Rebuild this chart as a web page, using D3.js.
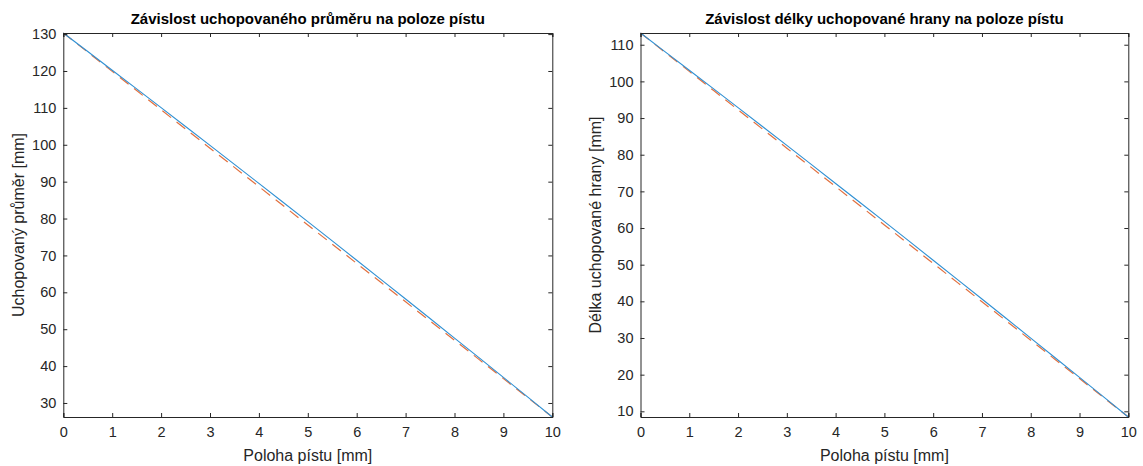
<!DOCTYPE html>
<html>
<head>
<meta charset="utf-8">
<script src="https://cdn.jsdelivr.net/npm/d3@7"></script>
<style>
  html, body { margin: 0; padding: 0; background: #fff; }
  svg { display: block; }
  text { font-family: "Liberation Sans", Arial, Helvetica, sans-serif; }
</style>
</head>
<body>
<svg id="chart" width="1143" height="466"></svg>
<script>
// ---- data ----
const poloha = [0, 0.5, 1, 1.5, 2, 2.5, 3, 3.5, 4, 4.5, 5, 5.5, 6, 6.5, 7, 7.5, 8, 8.5, 9, 9.5, 10];

const prumerSkutecny = [130.30, 125.27, 120.21, 115.15, 110.06, 104.96, 99.83, 94.69, 89.52, 84.35, 79.15,
                        73.94, 68.70, 63.46, 58.19, 52.91, 47.60, 42.28, 36.93, 31.58, 26.20];
const prumerLinearni = [130.30, 125.10, 119.89, 114.69, 109.48, 104.28, 99.07, 93.87, 88.66, 83.46, 78.25,
                        73.05, 67.84, 62.64, 57.43, 52.23, 47.02, 41.82, 36.61, 31.41, 26.20];

const hranaSkutecna = [113.20, 108.13, 103.05, 97.95, 92.83, 87.69, 82.54, 77.36, 72.16, 66.95, 61.73,
                       56.48, 51.21, 45.93, 40.64, 35.32, 29.98, 24.62, 19.25, 13.86, 8.45];
const hranaLinearni = [113.20, 107.96, 102.73, 97.49, 92.25, 87.01, 81.78, 76.54, 71.30, 66.06, 60.83,
                       55.59, 50.35, 45.11, 39.88, 34.64, 29.40, 24.16, 18.93, 13.69, 8.45];

const xTicks = [0, 1, 2, 3, 4, 5, 6, 7, 8, 9, 10];
const yTicksLeft = [30, 40, 50, 60, 70, 80, 90, 100, 110, 120, 130];
const yTicksRight = [10, 20, 30, 40, 50, 60, 70, 80, 90, 100, 110];

const titles = ["Závislost uchopovaného průměru na poloze pístu", "Závislost délky uchopované hrany na poloze pístu"];
const xLabel = "Poloha pístu [mm]";
const yLabels = ["Uchopovaný průměr [mm]", "Délka uchopované hrany [mm]"];

// ---- drawing ----
const svg = d3.select("#chart");
const axisColor = "#262626";
const blue = "#2f90d3";
const red = "#e2703f";

const panels = [
  { left: 63.3, right: 552.3, top: 33, bottom: 417, ydom: [26.2, 130.3], yticks: yTicksLeft,
    s1: prumerSkutecny, s2: prumerLinearni, title: titles[0], ylabel: yLabels[0], ylabelX: 18 },
  { left: 640.5, right: 1128.3, top: 33, bottom: 417, ydom: [8.45, 113.2], yticks: yTicksRight,
    s1: hranaSkutecna, s2: hranaLinearni, title: titles[1], ylabel: yLabels[1], ylabelX: 595 }
];

panels.forEach(p => {
  const x = d3.scaleLinear().domain([0, 10]).range([p.left, p.right]);
  const y = d3.scaleLinear().domain(p.ydom).range([p.bottom, p.top]);
  const g = svg.append("g");

  // lines
  const line = d3.line().x((d, i) => x(poloha[i])).y(d => y(d));
  g.append("path").datum(p.s2).attr("d", line)
    .attr("fill", "none").attr("stroke", red).attr("stroke-width", 1.2)
    .attr("stroke-dasharray", "11,7");
  g.append("path").datum(p.s1).attr("d", line)
    .attr("fill", "none").attr("stroke", blue).attr("stroke-width", 1.1);

  const tick = 4;
  const ax = g.append("g").attr("transform", `translate(0,${p.bottom})`)
    .call(d3.axisBottom(x).tickValues(xTicks).tickFormat(d3.format("d")).tickSize(-tick).tickPadding(10));
  const axT = g.append("g").attr("transform", `translate(0,${p.top})`)
    .call(d3.axisTop(x).tickValues(xTicks).tickFormat("").tickSize(-tick));
  const ay = g.append("g").attr("transform", `translate(${p.left},0)`)
    .call(d3.axisLeft(y).tickValues(p.yticks).tickFormat(d3.format("d")).tickSize(-tick).tickPadding(7));
  const ayR = g.append("g").attr("transform", `translate(${p.right},0)`)
    .call(d3.axisRight(y).tickValues(p.yticks).tickFormat("").tickSize(-tick));

  [ax, axT, ay, ayR].forEach(a => {
    a.select(".domain").attr("stroke", axisColor).attr("stroke-width", 1);
    a.selectAll(".tick line").attr("stroke", axisColor).attr("stroke-width", 1);
    a.selectAll(".tick text").attr("fill", axisColor).style("font-size", "14.5px")
      .style("font-family", "'Liberation Sans', Arial, sans-serif");
  });

  g.append("text").attr("x", (p.left + p.right) / 2).attr("y", 23.5)
    .attr("text-anchor", "middle").attr("fill", "#000")
    .style("font-size", "15px").style("font-weight", "bold").text(p.title);
  g.append("text").attr("x", (p.left + p.right) / 2).attr("y", 461)
    .attr("text-anchor", "middle").attr("fill", axisColor)
    .style("font-size", "16px").text(xLabel);
  g.append("text").attr("transform", `translate(${p.ylabelX},${(p.top + p.bottom) / 2}) rotate(-90)`)
    .attr("text-anchor", "middle").attr("dy", "0.35em").attr("fill", axisColor)
    .style("font-size", "16px").text(p.ylabel);
});
</script>
</body>
</html>
